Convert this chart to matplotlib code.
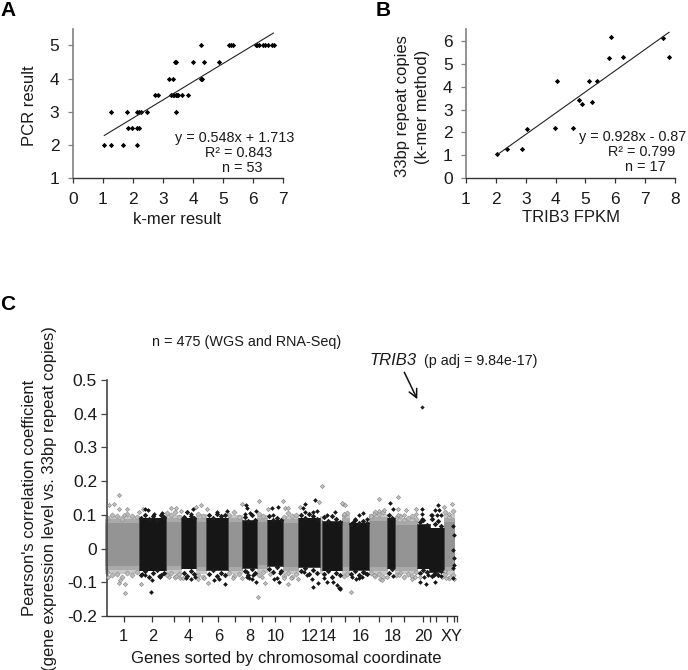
import matplotlib
matplotlib.use("Agg")
import matplotlib.pyplot as plt

plt.rcParams['font.family'] = ['Liberation Sans', 'DejaVu Sans']

W, H = 688., 670.

# panel A: k-mer result vs PCR result
a_x = [4.27, 5.2, 5.25, 5.32, 6.09, 6.13, 6.18, 6.33, 6.39, 6.5, 6.61, 6.69,
       3.4, 3.43, 3.99, 4.36, 4.87,
       3.19, 3.32, 4.25, 4.29,
       2.75, 2.85, 3.26, 3.34, 3.38, 3.42, 3.46, 3.51, 3.62, 3.83,
       1.26, 1.8, 2.14, 2.2, 2.28, 2.46, 3.44,
       1.83, 1.96, 2.15, 2.2,
       1.04, 1.28, 1.67, 2.14]
a_y = [5] * 12 + [4.5] * 5 + [4] * 4 + [3.5] * 10 + [3] * 7 + [2.5] * 4 + [2] * 4
a_fit = (0.548, 1.713)
a_fit_x = [1.05, 6.67]

# panel B: TRIB3 FPKM vs repeat copies
b_x = [2.03, 2.37, 2.86, 3.05, 3.99, 4.04, 4.59, 4.77, 4.87, 5.11, 5.23, 5.39,
       5.78, 5.85, 6.27, 7.61, 7.79]
b_y = [1.06, 1.28, 1.28, 2.17, 2.19, 4.26, 2.19, 3.42, 3.23, 4.26, 3.31, 4.26,
       5.23, 6.18, 5.29, 6.10, 5.29]
b_fit = (0.928, -0.87)
b_fit_x = [2.03, 7.8]

# panel C: position along the genome axis, chromosome tick positions
chrom_ticks = [17, 44.7, 66.3, 81.3, 94.7, 110.7, 127.3, 142.3, 155, 168, 182.3,
               202, 213.3, 224, 238, 251.3, 271.3, 284, 297, 315.3, 322.3, 329,
               339.7, 346.3, 350]
label_pos = [16, 45, 81, 111, 143, 169, 203, 221, 254, 286, 316, 344]
label_txt = ['1', '2', '4', '6', '8', '10', '12', '14', '16', '18', '20', 'XY']

# cloud extent of each chromosome block (the genes are too dense to read one by one)
grey_left = [-2.7, 58.7, 89, 120.7, 150, 175.3, 213, 235, 262, 287.3, 322.3, 336.3]
grey_right = [32.5, 75, 100, 136, 160.7, 192, 215.7, 242.3, 280.3, 311, 323, 348]
grey_top = [0.092, 0.094, 0.096, 0.094, 0.094, 0.092, 0.090, 0.094, 0.097, 0.086, 0.060, 0.096]
grey_bot = [-0.068, -0.068, -0.070, -0.070, -0.066, -0.070, -0.070, -0.070, -0.072, -0.070, -0.070, -0.072]

black_left = [32.5, 75, 100, 136, 160.7, 192, 215.7, 242.3, 280.3, 311, 323]
black_right = [58.7, 89, 120.7, 150, 175.3, 213, 235, 262, 287.3, 322.3, 336.3]
black_top = [0.090, 0.090, 0.090, 0.082, 0.084, 0.090, 0.080, 0.075, 0.090, 0.070, 0.060]
black_bot = [-0.066, -0.060, -0.064, -0.058, -0.052, -0.056, -0.066, -0.065, -0.060, -0.060, -0.070]

# ragged outline of the cloud, read along its upper and lower edge
edge_x = [0, 5, 10, 15, 20, 25, 30, 60, 64, 68, 72, 91, 96, 122, 127, 132, 152, 156,
          177, 181, 185, 189, 237, 240, 264, 268, 272, 276, 289, 293, 297, 301, 305,
          309, 338, 342, 346]
edge_top = [.092, .100, .096, .089, .103, .098, .094, .106, .099, .108, .095, .104, .098,
            .101, .107, .094, .103, .096, .093, .105, .097, .101, .099, .106, .098, .109,
            .103, .107, .090, .097, .086, .092, .096, .088, .107, .095, .110]
edge_bot = [-.070, -.079, -.074, -.083, -.072, -.078, -.069, -.078, -.071, -.083, -.075,
            -.077, -.084, -.072, -.081, -.076, -.079, -.070, -.080, -.072, -.084, -.076,
            -.082, -.074, -.071, -.082, -.076, -.085, -.079, -.072, -.084, -.075, -.081,
            -.070, -.076, -.086, -.079]

black_edge_x = [34, 38, 42, 46, 50, 54, 57, 77, 80, 84, 87, 102, 106, 110, 114, 118,
                137.5, 141, 145, 148, 162, 166, 170, 173.5, 194, 198, 202, 206, 210,
                217, 221, 225, 229, 233, 244, 248, 252, 256, 260, 281.5, 285,
                312.5, 316, 320, 325, 328, 331, 334]
black_edge_top = [.092, .101, .089, .097, .086, .099, .094, .094, .107, .098, .090,
                  .099, .091, .104, .096, .101, .093, .082, .099, .086, .096, .086,
                  .091, .084, .100, .091, .104, .097, .089, .094, .081, .097, .089,
                  .079, .073, .086, .077, .083, .076, .099, .090, .079, .084, .070,
                  .088, .072, .082, .066]
black_edge_bot = [-.077, -.066, -.083, -.072, -.064, -.079, -.071, -.071, -.081, -.066,
                  -.074, -.075, -.065, -.082, -.072, -.079, -.068, -.079, -.060, -.072,
                  -.061, -.069, -.056, -.066, -.068, -.059, -.075, -.064, -.071, -.076,
                  -.066, -.083, -.072, -.079, -.076, -.066, -.079, -.069, -.074, -.071,
                  -.060, -.072, -.063, -.070, -.081, -.072, -.079, -.068]

grey_x = [12, 7, 2, 11.3, 19.7, 17, 31.7, 35.7, 63.7, 68.3, 73.7, 89, 94, 99.7,
          .3, 11.3, 13, 17.3, 17.7, 33.7, 62, 68.3, 73, 75.7, 90.3, 96.3, 101,
          214.3, 212, 175.3, 151.3, 134.7, 193, 160.3, 177.3, 180.7, 235.3,
          151, 158, 180.3, 125.3, 134.7, 154.7, 163, 176.3, 184, 190.7,
          272, 290.3, 290.3, 290.3, 298.7, 296.3, 308.3, 308.3, 344.7, 337, 341.3,
          234.7, 238, 236.3, 271.3, 276.3, 266.3,
          243.7, 266.3, 273, 274.7, 279.7, 291.3, 304.7, 308, 313, 338, 334.7,
          338.7, 343, 347]
grey_r = [.160, .132, .129, .116, .117, .101, .109, .118, .121, .119, .111, .122, .129, .116,
          -.085, -.103, -.093, -.106, -.133, -.104, -.085, -.080, -.087, -.087, -.091, -.088, -.103,
          .185, .139, .142, .141, .132, .124, .116, .119, .119, .132,
          -.144, -.101, -.106, -.088, -.088, -.083, -.076, -.088, -.088, -.090,
          .146, .152, .117, .099, .114, .099, .116, .104, .132, .122, .104,
          .134, .129, .104, .112, .114, .104,
          -.128, -.078, -.090, -.093, -.083, -.078, -.091, -.083, -.085, -.066, -.083,
          -.086, -.083, -.091]

black_x = [37.3, 40.7, 46.3, 54.7, 85.7, 83.7, 109.7, 119.7,
           34.7, 38, 44.7, 43.7, 53, 51.3, 79, 83.7, 87.3, 106.3, 112, 117.7,
           138.7, 139.7, 148.7, 138, 143, 164.7, 170.7, 165.7, 198, 195.3, 208,
           205.3, 209.7, 198, 219.7, 228,
           139.7, 142, 145.7, 148.7, 144.7, 139.7, 166.3, 169.7, 171.3, 173,
           196.3, 199.7, 204.7, 205.7, 210.3, 216.3, 219.7, 225.7, 231.3, 233, 229.7,
           283, 285.7, 314.7, 314.7, 314.7, 323.7, 330.7, 328, 332, 324.7, 329.7,
           334, 255.7, 252, 248, 245.7, 259.7,
           244.7, 248.7, 251.3, 254.7, 258, 285.7, 313, 319, 317, 320.3, 328,
           333.7, 326.3, 233,
           345.7, 346.3, 345.7, 346.3, 346.3, 345.7, 345.3]
black_r = [.116, .114, .102, .106, .116, .104, .107, .111,
           -.076, -.078, -.093, -.130, -.083, -.081, -.088, -.091, -.083, -.093, -.089, -.106,
           .129, .119, .112, .104, .106, .121, .124, .101, .132, .119, .144,
           .109, .111, .107, .099, .107,
           -.083, -.088, -.077, -.098, -.090, -.069, -.091, -.088, -.098, -.072,
           -.069, -.078, -.090, -.113, -.101, -.088, -.098, -.098, -.118, -.120, -.108,
           .134, .116, .116, .104, .089, .099, .129, .114, .114, .101, .099,
           .101, .106, .099, .089, .079, .089,
           -.083, -.090, -.088, -.085, -.073, -.081, -.098, -.106, -.083, -.077, -.100,
           -.081, -.078, -.118,
           .068, .040, -.004, -.029, -.049, -.059, -.088]

trib3_x = 314.5
trib3_r = 0.421


def make_axes(fig, left, right, top, bottom):
    return fig.add_axes([left / W, 1 - bottom / H, (right - left) / W, (bottom - top) / H])


def label(fig, x, y, txt, size=12, **kw):
    kw.setdefault('ha', 'center')
    kw.setdefault('va', 'center')
    kw.setdefault('color', '#1a1a1a')
    fig.text(x / W, 1 - y / H, txt, fontsize=size, **kw)


def style_axes(ax, left_color='#808080', ticklen=3.6):
    for s in ['top', 'right']:
        ax.spines[s].set_visible(False)
    ax.spines['left'].set_color(left_color)
    ax.spines['left'].set_linewidth(1.2)
    ax.spines['bottom'].set_color('#333333')
    ax.spines['bottom'].set_linewidth(1.0)
    ax.tick_params(axis='y', length=ticklen, width=0.9, color=left_color, labelsize=12.5,
                   labelcolor='#1a1a1a', pad=6)
    ax.tick_params(axis='x', length=ticklen, width=0.9, color='#333333', labelsize=12.5,
                   labelcolor='#1a1a1a', pad=6)


fig = plt.figure(figsize=(W / 100, H / 100), dpi=100)

# A
ax = make_axes(fig, 72.7, 283.3, 28.7, 178.3)
ax.plot(a_x, a_y, 'D', color='black', ms=2.7, mew=0)
ax.plot(a_fit_x, [a_fit[0] * x + a_fit[1] for x in a_fit_x], color='#222222', lw=0.8)
ax.set_xlim(0, 7)
ax.set_ylim(1, 5.5)
ax.set_xticks(range(0, 8))
ax.set_yticks(range(1, 6))
style_axes(ax)
label(fig, 177, 219, 'k-mer result')
label(fig, 29.3, 105.7, 'PCR result', rotation=90)
label(fig, 235, 138, 'y = 0.548x + 1.713', 10.4)
label(fig, 239, 152.7, 'R² = 0.843', 10.4)
label(fig, 242.7, 167.7, 'n = 53', 10.4)
label(fig, 0, 10, 'A', 15, ha='left', fontweight='bold', color='black')

# B
ax = make_axes(fig, 466, 675, 29.3, 178.3)
ax.plot(b_x, b_y, 'D', color='black', ms=2.7, mew=0)
ax.plot(b_fit_x, [b_fit[0] * x + b_fit[1] for x in b_fit_x], color='#222222', lw=0.8)
ax.set_xlim(1, 8)
ax.set_ylim(0, 6.5)
ax.set_xticks(range(1, 9))
ax.set_yticks(range(0, 7))
style_axes(ax)
label(fig, 571, 218, 'TRIB3 FPKM')
label(fig, 403, 106, '33bp repeat copies', rotation=90)
label(fig, 423, 107, '(k-mer method)', rotation=90)
label(fig, 633, 137, 'y = 0.928x - 0.87', 10.4)
label(fig, 641.7, 152, 'R² = 0.799', 10.4)
label(fig, 645, 167, 'n = 17', 10.4)
label(fig, 376, 10, 'B', 15, ha='left', fontweight='bold', color='black')

# C
ax = make_axes(fig, 107.3, 457.3, 380, 616)
for pad, col in [(0.006, '#c8c8c8'), (-0.004, '#aaaaaa'), (-0.016, '#949494')]:
    ax.bar(grey_left, [t - b + 2 * pad for t, b in zip(grey_top, grey_bot)],
           [r - l for l, r in zip(grey_left, grey_right)],
           [b - pad for b in grey_bot], align='edge', color=col, lw=0, clip_on=False, zorder=1)
ax.plot(edge_x + edge_x, edge_top + edge_bot, 'D', mfc='#bdbdbd', mec='#969696', ms=2.6,
        mew=0.5, zorder=1.5)
ax.bar([l - 1 for l in black_left], [t - b + 0.004 for t, b in zip(black_top, black_bot)],
       [r - l + 2 for l, r in zip(black_left, black_right)],
       [b - 0.002 for b in black_bot], align='edge', color='#4a4a4a', lw=0, zorder=2)
ax.bar(black_left, [t - b for t, b in zip(black_top, black_bot)],
       [r - l for l, r in zip(black_left, black_right)],
       black_bot, align='edge', color='#161616', lw=0, zorder=2.2)
ax.plot(black_edge_x + black_edge_x, black_edge_top + black_edge_bot, 'D', color='#1c1c1c',
        ms=2.8, mew=0, zorder=2.5)
ax.plot(grey_x, grey_r, 'D', mfc='#c4c4c4', mec='#8c8c8c', ms=2.1, mew=0.5, zorder=3, clip_on=False)
ax.plot(black_x, black_r, 'D', color='#161616', ms=2.4, mew=0, zorder=4)
ax.plot([trib3_x], [trib3_r], 'D', color='#222222', ms=2.2, mew=0, zorder=4)
ax.annotate('', xy=(310, 0.443), xytext=(297, 0.523), annotation_clip=False,
            arrowprops=dict(arrowstyle='->', color='#111111', lw=1.1, mutation_scale=15,
                            shrinkA=0, shrinkB=0))
ax.set_xlim(0, 350)
ax.set_ylim(-0.2, 0.5)
ax.set_yticks([-0.2, -0.1, 0, 0.1, 0.2, 0.3, 0.4, 0.5])
ax.set_yticklabels(['-0.2', '-0.1', '0', '0.1', '0.2', '0.3', '0.4', '0.5'])
ax.set_xticks(chrom_ticks)
ax.set_xticklabels([])
style_axes(ax, left_color='#444444', ticklen=4.4)
ax.tick_params(axis='y', pad=3)
for x, txt in zip(label_pos, label_txt):
    ax.annotate(txt, xy=(x, 0), xycoords=('data', 'axes fraction'), xytext=(0, -14.5),
                textcoords='offset points', ha='center', va='center', fontsize=11.8,
                color='#1a1a1a', annotation_clip=False)
label(fig, 286, 658, 'Genes sorted by chromosomal coordinate')
label(fig, 30, 498, "Pearson's correlation coefficient", rotation=90)
label(fig, 50, 499, '(gene expression level vs. 33bp repeat copies)', rotation=90)
label(fig, 152, 342, 'n = 475 (WGS and RNA-Seq)', 10.4, ha='left')
label(fig, 370, 361, 'TRIB3', 12, ha='left', style='italic')
label(fig, 424, 361, '(p adj = 9.84e-17)', 10.3, ha='left')
label(fig, 0, 305, 'C', 15, ha='left', fontweight='bold', color='black')

fig.savefig('out.png', dpi=100)
